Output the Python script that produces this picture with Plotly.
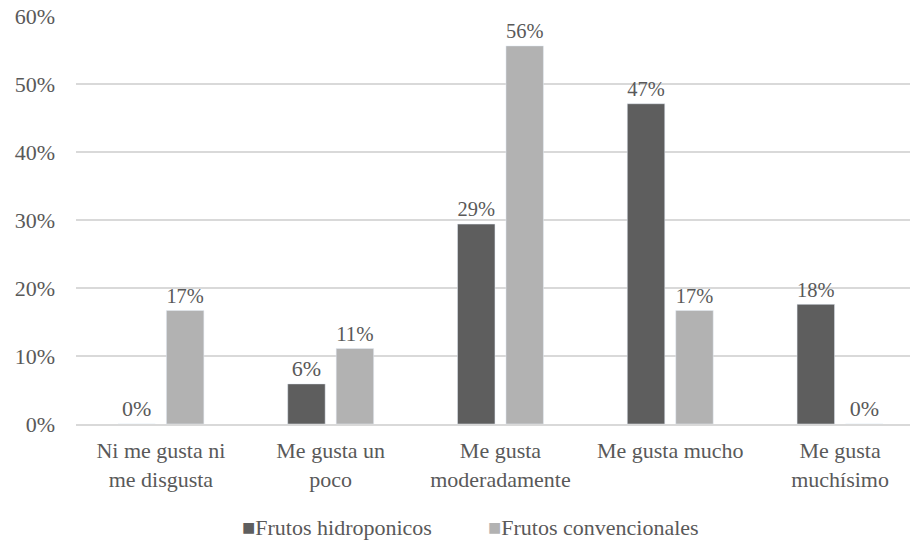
import plotly.graph_objects as go

categories = ["Ni me gusta ni<br>me disgusta", "Me gusta un<br>poco", "Me gusta<br>moderadamente",
              "Me gusta mucho", "Me gusta<br>muchísimo"]
hidroponicos = [0.0, 0.059, 0.294, 0.471, 0.176]
convencionales = [0.167, 0.111, 0.556, 0.167, 0.0]
series_names = ["Frutos hidroponicos", "Frutos convencionales"]
series_colors = ["#5E5E5E", "#B2B2B2"]
tick_vals = [0, 0.1, 0.2, 0.3, 0.4, 0.5, 0.6]

font_family = "Liberation Serif, Times New Roman, serif"
text_color = "#595959"

fig = go.Figure()
for name, vals, color in zip(series_names, [hidroponicos, convencionales], series_colors):
    fig.add_trace(go.Bar(
        x=list(range(len(categories))), y=vals, name=name, marker_color=color,
        texttemplate="%{y:.0%}", textposition="outside",
        textfont=dict(family=font_family, size=22, color=text_color),
        cliponaxis=False, showlegend=False,
    ))

# manual legend (compact marker-text spacing like the reference)
legend_x = [0.197, 0.4915]
for name, color, lx in zip(series_names, series_colors, legend_x):
    fig.add_annotation(
        xref="paper", yref="paper", x=lx, y=-0.2525, xanchor="left", yanchor="middle",
        text=f"<span style='color:{color};font-size:22px'>■</span>{name}",
        showarrow=False, font=dict(family=font_family, size=22, color=text_color),
    )

fig.update_layout(
    width=912, height=544,
    margin=dict(l=76, r=2, t=16, b=120),
    paper_bgcolor="white", plot_bgcolor="white",
    barmode="group", bargap=0.429, bargroupgap=0.227,
    font=dict(family=font_family, size=22, color=text_color),
    showlegend=False,
)
fig.update_xaxes(range=[-0.5, 4.412], tickvals=list(range(len(categories))), ticktext=categories,
                 showgrid=False, showline=True, linecolor="#D9D9D9", linewidth=2,
                 tickfont=dict(family=font_family, size=22, color=text_color),
                 ticks="", ticklabelstandoff=6, fixedrange=True)
fig.update_yaxes(range=[0, 0.6], tickvals=tick_vals, tickformat=".0%",
                 showgrid=True, gridcolor="#D9D9D9", gridwidth=2, zeroline=False,
                 showline=False, ticklabelstandoff=20,
                 tickfont=dict(family=font_family, size=22, color=text_color))

fig.write_html("out.html")
